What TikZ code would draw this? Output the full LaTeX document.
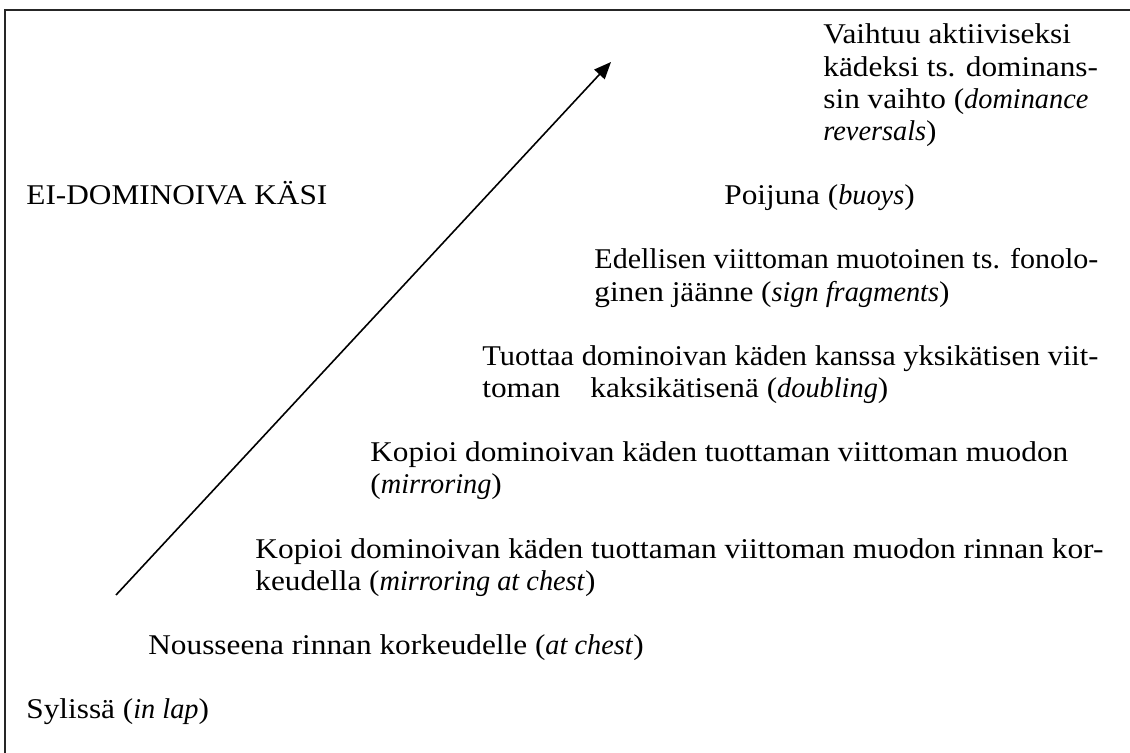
\documentclass[tikz,border=0pt]{standalone}
\usepackage{fontspec}
\setmainfont{Liberation Serif}[UprightFeatures={FakeStretch=1.094}, ItalicFeatures={FakeStretch=0.99}]
\usetikzlibrary{arrows.meta}
\newcommand{\fitline}[2]{\resizebox{#1}{\height}{#2}}
\tikzset{
  txt/.style={anchor=base west, inner sep=0pt, font=\fontsize{14.3pt}{16pt}\selectfont},
  frameline/.style={line width=1pt, draw=black!85},
  growth/.style={line width=0.8pt, -{Triangle[length=8.5pt,width=7pt]}}
}
\begin{document}
\begin{tikzpicture}[x=0.5pt,y=-0.5pt]
\useasboundingbox (0,0) rectangle (1130,753);
% frame (top and left edges)
\coordinate (fTL) at (5,10);
\coordinate (fTR) at (1135,10);
\coordinate (fBL) at (5,760);
\draw[frameline] (fBL) -- (fTL) -- (fTR);
% rising arrow
\coordinate (arrStart) at (116,595);
\coordinate (arrEnd) at (611,62);
\draw[growth] (arrStart) -- (arrEnd);
% texts
\def\yk#1{44+32.14*#1}
\node[txt] (v1) at (823,{\yk{0}}) {Vaihtuu aktiiviseksi};
\node[txt] (v2) at (823,{\yk{1}}) {kädeksi ts. dominans-};
\node[txt] (v3) at (823,{\yk{2}}) {sin vaihto (\textit{dominance}};
\node[txt] (v4) at (823,{\yk{3}}) {\textit{reversals})};
\node[txt] (ei) at (26,{\yk{5}}) {EI-DOMINOIVA KÄSI};
\node[txt] (p1) at (724,{\yk{5}}) {Poijuna (\textit{buoys})};
\node[txt] (e1) at (594,{\yk{7}}) {\fitline{252pt}{Edellisen viittoman muotoinen ts. fonolo-}};
\node[txt] (e2) at (594,{\yk{8}}) {ginen jäänne (\textit{sign fragments})};
\node[txt] (t1) at (482,{\yk{10}}) {\fitline{308pt}{Tuottaa dominoivan käden kanssa yksikätisen viit-}};
\node[txt] (t2) at (482,{\yk{11}}) {toman\hspace{11pt} kaksikätisenä (\textit{doubling})};
\node[txt] (k1) at (370,{\yk{13}}) {Kopioi dominoivan käden tuottaman viittoman muodon};
\node[txt] (k2) at (370,{\yk{14}}) {(\textit{mirroring})};
\node[txt] (c1) at (255,{\yk{16}}) {\fitline{424pt}{Kopioi dominoivan käden tuottaman viittoman muodon rinnan kor-}};
\node[txt] (c2) at (255,{\yk{17}}) {keudella (\textit{mirroring at chest})};
\node[txt] (n1) at (148,{\yk{19}}) {Nousseena rinnan korkeudelle (\textit{at chest})};
\node[txt] (s1) at (26,{\yk{21}}) {Sylissä (\textit{in lap})};
\end{tikzpicture}
\end{document}
